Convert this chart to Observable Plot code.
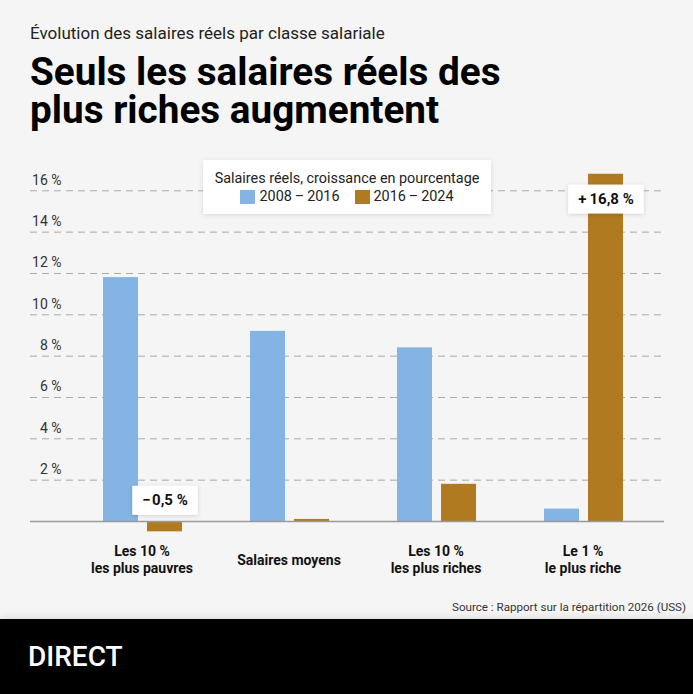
<!DOCTYPE html>
<html><head><meta charset="utf-8">
<script src="https://cdn.jsdelivr.net/npm/d3@7"></script>
<script src="https://cdn.jsdelivr.net/npm/@observablehq/plot@0.6"></script>
<style>
body{margin:0;background:#f5f5f5;}
#page{position:relative;width:693px;height:694px;background:#f5f5f5;font-family:Roboto,"Noto Sans",sans-serif;overflow:hidden;color:#111;}
#sub{position:absolute;left:30px;top:25px;font-size:17px;line-height:17px;color:#222;white-space:nowrap;}
#title{position:absolute;left:30px;top:53px;font-size:38.7px;line-height:37.5px;font-weight:700;color:#000;white-space:nowrap;}
#chart{position:absolute;left:0;top:140px;}
#legend{position:absolute;left:203px;top:160px;width:288px;height:54px;background:#fff;box-shadow:0 1px 5px rgba(0,0,0,0.12);text-align:center;font-size:14.4px;color:#222;}
#legend .t{margin-top:10px;line-height:18px;}
#legend .row{line-height:18px;display:flex;justify-content:center;gap:15px;}
#legend .it{display:flex;align-items:center;gap:4px;}
#legend .sw{width:15px;height:14px;display:inline-block;}
#source{position:absolute;right:7px;top:601px;font-size:11.6px;line-height:12px;color:#333;white-space:nowrap;}
#footer{position:absolute;left:0;top:619px;width:693px;height:75px;background:#000;box-shadow:0 -3px 6px rgba(0,0,0,0.08);}
#footer span{position:absolute;left:28px;top:24px;font-size:28px;line-height:28px;font-weight:500;color:#fff;}
</style></head><body>
<div id="page">
 <div id="sub">Évolution des salaires réels par classe salariale</div>
 <div id="title">Seuls les salaires réels des<br>plus riches augmentent</div>
 <div id="chart"></div>
 <div id="legend"><div class="t">Salaires réels, croissance en pourcentage</div><div class="row" id="lrow"></div></div>
 <div id="source">Source : Rapport sur la répartition 2026 (USS)</div>
 <div id="footer"><span>DIRECT</span></div>
</div>
<script>
const groups = ["Les 10 %\nles plus pauvres", "Salaires moyens", "Les 10 %\nles plus riches", "Le 1 %\nle plus riche"];
const series = ["2008\u2009\u2013\u20092016", "2016\u2009\u2013\u20092024"];
const values0816 = [11.8, 9.2, 8.4, 0.6];
const values1624 = [-0.5, 0.1, 1.8, 16.8];
const yTicks = [2, 4, 6, 8, 10, 12, 14, 16];
const colors = ["#84b4e3", "#b07a20"];
const labelledGroups = [groups[0], groups[3]];

const data = [];
groups.forEach((g, i) => {
  data.push({group: g, series: series[0], value: values0816[i]});
  data.push({group: g, series: series[1], value: values1624[i]});
});
const labelled = data.filter(d => d.series === series[1] && labelledGroups.includes(d.group));
const fmt = v => (v < 0 ? "\u2212\u200a" : "+\u2009") + Math.abs(v).toLocaleString("fr-FR", {minimumFractionDigits: 1}) + "\u00a0%";
const labelTexts = new Set(labelled.map(d => fmt(d.value)));

// legend
const lrow = document.getElementById("lrow");
series.forEach((s, i) => {
  const it = document.createElement("span"); it.className = "it";
  it.innerHTML = `<span class="sw" style="background:${colors[i]}"></span><span>${s}</span>`;
  lrow.appendChild(it);
});

const chart = Plot.plot({
  width: 693,
  height: 440,
  marginLeft: 30,
  marginRight: 29,
  marginTop: 0,
  marginBottom: 0,
  style: {background: "transparent", fontFamily: "Roboto, sans-serif", overflow: "visible"},
  x: {domain: groups, range: [68, 656], padding: 0, axis: null},
  y: {domain: [0, 16], range: [381, 50.3], axis: null},
  color: {domain: series, range: colors},
  marks: [
    Plot.ruleY(yTicks, {stroke: "#a8a8a8", strokeWidth: 1, strokeDasharray: "7,5"}),
    Plot.text(yTicks, {y: d => d, text: d => d + " %", frameAnchor: "left", textAnchor: "end", dx: 31, dy: -10.5, fontSize: 14, fill: "#333"}),
    Plot.barY(data.filter(d => d.series === series[0]), {x: "group", y: "value", fill: "series", insetLeft: 35, insetRight: 77}),
    Plot.barY(data.filter(d => d.series === series[1]), {x: "group", y: "value", fill: "series", insetLeft: 79, insetRight: 33}),
    Plot.ruleY([0], {stroke: "#9a9a9a", strokeWidth: 1.3}),
    Plot.text(groups, {x: d => d, y: () => 0, text: d => d, dy: 38, lineAnchor: "middle", lineHeight: 1.2, fontSize: 14, fontWeight: 700, fill: "#111"}),
    Plot.text(labelled.filter(d => d.value < 0), {x: "group", y: () => 0, text: d => fmt(d.value), dx: 23, dy: -21, fontSize: 15, fontWeight: 700, fill: "#111"}),
    Plot.text(labelled.filter(d => d.value >= 0), {x: "group", y: "value", text: d => fmt(d.value), dx: 23, dy: 25, fontSize: 15, fontWeight: 700, fill: "#111"})
  ]
});
document.getElementById("chart").appendChild(chart);

// white boxes behind value labels
const svg = d3.select(chart);
const defs = svg.insert("defs", ":first-child");
const f = defs.append("filter").attr("id", "shadow").attr("x", "-20%").attr("y", "-30%").attr("width", "140%").attr("height", "160%");
f.append("feDropShadow").attr("dx", 0).attr("dy", 1).attr("stdDeviation", 2).attr("flood-opacity", 0.15);
svg.selectAll("text").each(function() {
  if (!labelTexts.has(this.textContent)) return;
  const b = this.getBBox();
  const tr = this.getAttribute("transform");
  const r = document.createElementNS("http://www.w3.org/2000/svg", "rect");
  const padX = 10, h = 29;
  r.setAttribute("x", b.x - padX);
  r.setAttribute("y", b.y + b.height / 2 - h / 2);
  r.setAttribute("width", b.width + 2 * padX);
  r.setAttribute("height", h);
  r.setAttribute("fill", "#fff");
  r.setAttribute("filter", "url(#shadow)");
  if (tr) r.setAttribute("transform", tr);
  this.parentNode.insertBefore(r, this);
});
</script>
</body></html>
